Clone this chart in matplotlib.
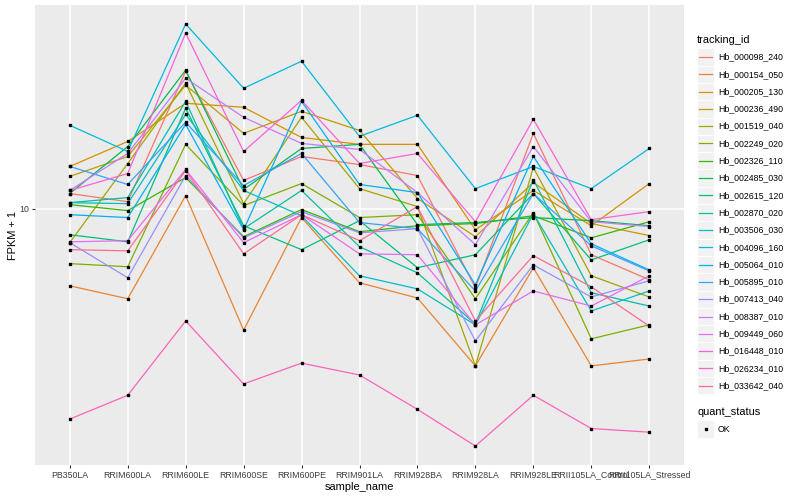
import matplotlib
matplotlib.use('Agg')
import matplotlib.pyplot as plt
import numpy as np
from matplotlib.lines import Line2D
from matplotlib.patches import Rectangle
from matplotlib.ticker import NullLocator

plt.rcParams['font.family'] = ['Liberation Sans', 'DejaVu Sans']

samples = ['PB350LA', 'RRIM600LA', 'RRIM600LE', 'RRIM600SE', 'RRIM600PE',
           'RRIM901LA', 'RRIM928BA', 'RRIM928LA', 'RRIM928LE',
           'RRII105LA_Control', 'RRII105LA_Stressed']

tracking_ids = ['Hb_000098_240', 'Hb_000154_050', 'Hb_000205_130', 'Hb_000236_490',
                'Hb_001519_040', 'Hb_002249_020', 'Hb_002326_110', 'Hb_002485_030',
                'Hb_002615_120', 'Hb_002870_020', 'Hb_003506_030', 'Hb_004096_160',
                'Hb_005064_010', 'Hb_005895_010', 'Hb_007413_040', 'Hb_008387_010',
                'Hb_009449_060', 'Hb_016448_010', 'Hb_026234_010', 'Hb_033642_040']

# FPKM + 1, one list per gene, in sample order
hb_000098_240 = [10.62, 10.28, 17.30, 11.19, 12.31, 11.92, 11.41, 7.29, 13.50, 8.32, 7.53]
hb_000154_050 = [7.35, 6.98, 10.53, 6.16, 9.65, 7.44, 7.00, 5.34, 7.90, 5.34, 5.49]
hb_000205_130 = [11.83, 13.07, 15.22, 14.98, 13.28, 12.92, 12.92, 9.19, 10.75, 9.34, 11.05]
hb_000236_490 = [11.37, 12.31, 16.36, 13.50, 14.74, 13.66, 10.41, 8.94, 11.10, 9.42, 8.98]
hb_001519_040 = [8.73, 11.97, 16.49, 10.20, 14.39, 10.83, 10.08, 5.34, 11.78, 7.65, 7.03]
hb_002249_020 = [8.03, 7.93, 12.92, 10.12, 11.05, 9.65, 9.76, 6.98, 9.84, 5.95, 6.29]
hb_002326_110 = [10.16, 9.92, 11.32, 8.94, 9.96, 9.12, 9.34, 9.42, 9.72, 8.90, 9.49]
hb_002485_030 = [10.62, 12.81, 17.37, 10.79, 12.71, 12.92, 9.38, 9.46, 9.65, 9.53, 9.34]
hb_002615_120 = [9.01, 8.76, 14.92, 9.34, 8.49, 9.53, 7.90, 8.32, 10.62, 8.15, 8.83]
hb_002870_020 = [10.24, 10.45, 15.34, 9.23, 10.75, 8.59, 7.74, 6.31, 11.23, 7.15, 6.78]
hb_003506_030 = [10.24, 10.20, 14.56, 10.75, 9.72, 7.65, 7.26, 6.29, 9.80, 6.65, 7.20]
hb_004096_160 = [13.94, 12.56, 20.88, 16.16, 18.00, 13.34, 14.51, 10.83, 11.83, 10.83, 12.71]
hb_005064_010 = [9.76, 9.65, 13.99, 9.19, 15.34, 11.01, 10.66, 7.38, 12.31, 8.69, 7.83]
hb_005895_010 = [11.83, 11.01, 14.11, 10.96, 12.46, 9.46, 9.23, 7.20, 10.62, 8.62, 7.80]
hb_007413_040 = [8.73, 7.59, 11.41, 8.90, 9.88, 9.08, 9.23, 5.90, 7.99, 7.03, 7.50]
hb_008387_010 = [10.75, 12.46, 16.82, 14.39, 12.97, 12.66, 10.66, 8.66, 12.81, 9.49, 9.31]
hb_009449_060 = [8.76, 8.80, 11.69, 8.73, 9.76, 8.35, 8.32, 6.29, 7.20, 6.78, 7.65]
hb_016448_010 = [10.75, 11.50, 20.14, 12.56, 15.40, 11.97, 12.46, 9.49, 14.28, 9.57, 9.88]
hb_026234_010 = [4.32, 4.75, 6.39, 4.97, 5.40, 5.15, 4.49, 3.88, 4.75, 4.16, 4.10]
hb_033642_040 = [8.49, 8.45, 11.64, 8.35, 9.76, 8.80, 10.08, 6.39, 8.29, 7.32, 6.26]

series = [hb_000098_240, hb_000154_050, hb_000205_130, hb_000236_490, hb_001519_040,
          hb_002249_020, hb_002326_110, hb_002485_030, hb_002615_120, hb_002870_020,
          hb_003506_030, hb_004096_160, hb_005064_010, hb_005895_010, hb_007413_040,
          hb_008387_010, hb_009449_060, hb_016448_010, hb_026234_010, hb_033642_040]

# ggplot2 default hue palette for 20 levels
colors = ['#F8766D', '#EA8331', '#D89000', '#C09B00', '#A3A500', '#7CAE00', '#39B600',
          '#00BB4E', '#00BF7D', '#00C1A3', '#00BFC4', '#00BAE0', '#00B0F6', '#35A2FF',
          '#9590FF', '#C77CFF', '#E76BF3', '#FA62DB', '#FF62BC', '#FF6C90']

W, H = 800, 500
fig = plt.figure(figsize=(W / 100, H / 100), dpi=100)
ax = fig.add_axes([35 / W, 35 / H, 649 / W, 460 / H])

x = np.arange(len(samples))
for vals, col in zip(series, colors):
    ax.plot(x, vals, color=col, lw=0.9, zorder=2)
for vals in series:
    ax.plot(x, vals, ls='none', marker='s', ms=2.1, color='black', zorder=3)

ax.set_yscale('log')
allv = np.concatenate([np.array(s) for s in series])
lo, hi = np.log10(allv.min()), np.log10(allv.max())
pad = 0.045 * (hi - lo)
ax.set_ylim(10 ** (lo - pad), 10 ** (hi + pad))
ax.set_xlim(-0.6, len(samples) - 0.4)
ax.set_yticks([10])
ax.set_yticklabels(['10'])
ax.yaxis.set_minor_locator(NullLocator())
ax.set_xticks(x)
ax.set_xticklabels(samples)

ax.set_facecolor('#EBEBEB')
for s in ax.spines.values():
    s.set_visible(False)
ax.grid(True, color='white', lw=1.1)
ax.set_axisbelow(True)
ax.tick_params(length=2.5, width=0.8, color='#333333', labelsize=6.3,
               labelcolor='#3C3C3C', pad=1.5)
ax.set_xlabel('sample_name', fontsize=7.9, labelpad=2)
ax.set_ylabel('FPKM + 1', fontsize=7.9, labelpad=1)

# legends, drawn by hand in pixel positions
def fx(px):
    return px / W

def fy(py):
    return 1 - py / H

fig.text(fx(697), fy(40), 'tracking_id', fontsize=7.9, va='center', ha='left')
step = 17.3
for i, (name, col) in enumerate(zip(tracking_ids, colors)):
    yc = 57 + step * i
    fig.patches.append(Rectangle((fx(697), fy(yc + step / 2)), 17 / W, step / H,
                                 facecolor='#F2F2F2', edgecolor='white', lw=0.6,
                                 transform=fig.transFigure))
    fig.lines.append(Line2D([fx(699), fx(712)], [fy(yc), fy(yc)], color=col, lw=0.9,
                            transform=fig.transFigure))
    fig.text(fx(718), fy(yc), name, fontsize=6.3, va='center', ha='left')

fig.text(fx(697), fy(412), 'quant_status', fontsize=7.9, va='center', ha='left')
fig.patches.append(Rectangle((fx(697), fy(429 + step / 2)), 17 / W, step / H,
                             facecolor='#F2F2F2', edgecolor='white', lw=0.6,
                             transform=fig.transFigure))
fig.lines.append(Line2D([fx(705.5)], [fy(429)], marker='s', ms=2.1, color='black',
                        ls='none', transform=fig.transFigure))
fig.text(fx(718), fy(429), 'OK', fontsize=6.3, va='center', ha='left')

fig.savefig('out.png', dpi=100)
